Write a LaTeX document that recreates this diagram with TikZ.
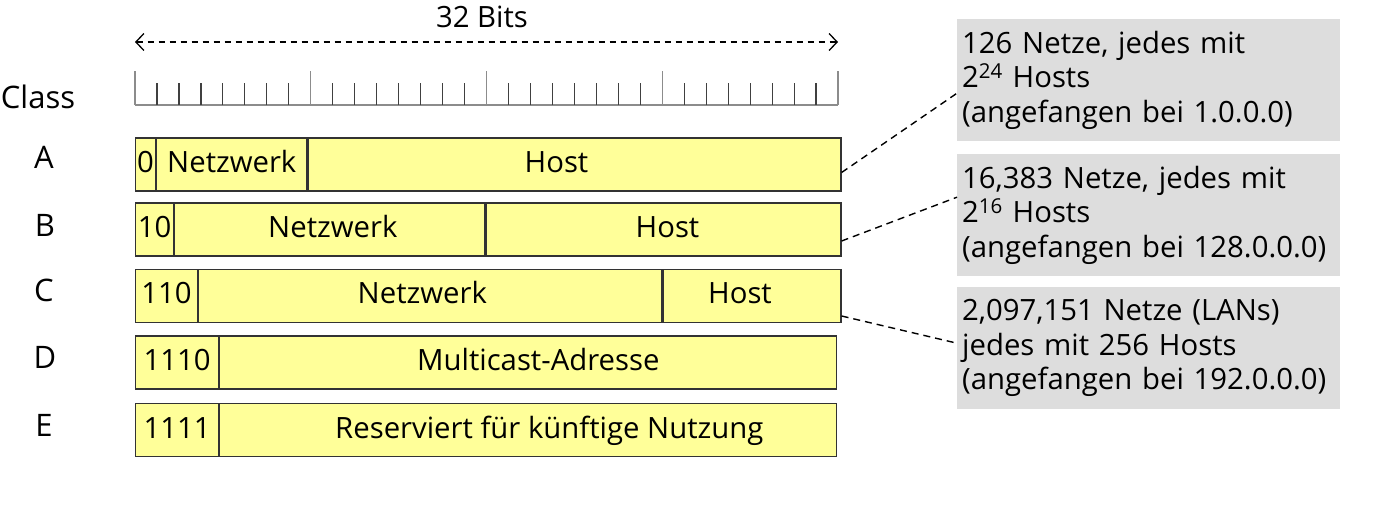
\documentclass[tikz,border=0pt]{standalone}
\usepackage{fontspec}
\setmainfont{Open Sans}
\usetikzlibrary{arrows.meta,positioning,calc}
\definecolor{fieldyellow}{HTML}{FFFF99}
\definecolor{infogray}{HTML}{DDDDDD}
\definecolor{rulergray}{HTML}{8C8C8C}

\begin{document}
\begin{tikzpicture}[x=1pt,y=-1pt,
  every node/.style={font=\fontsize{29.3}{34.5}\selectfont,inner sep=0pt},
  field/.style={draw=black!80,fill=fieldyellow,line width=1.2pt,minimum height=53pt,text height=22pt,text depth=6pt},
  nudge right/.style={execute at begin node={\hspace*{#1}}},
  nudge left/.style={execute at end node={\hspace*{#1}}},
  classlabel/.style={font=\fontsize{31}{36}\selectfont,anchor=base},
  info/.style={fill=infogray,anchor=north west,minimum height=122pt,text width=373pt,inner xsep=5pt,align=left},
  link/.style={dash pattern=on 7pt off 5pt,line width=1.4pt}]
\useasboundingbox (0,0) rectangle (1382,521);

% width of the address
\node[anchor=base] (bitslabel) at (482,28) {32 Bits};
\coordinate (bitsL) at (135,42);
\coordinate (bitsR) at (838,42);
\draw[{Straight Barb[length=8pt,width=17pt]}-{Straight Barb[length=8pt,width=17pt]},dash pattern=on 6pt off 5pt,line width=1.3pt] (bitsL) -- (bitsR);

% bit ruler
\draw[rulergray,line width=1.4pt] (135,105) -- (838,105);
\foreach \i in {0,8,...,32}
  \draw[rulergray,line width=1.4pt] ({135+\i*21.97},105) -- ++(0,-34);
\foreach \i in {1,...,31}{
  \pgfmathtruncatemacro\r{mod(\i,8)}
  \ifnum\r>0 \draw[black!75,line width=1.2pt] ({135+\i*21.97},105) -- ++(0,-22);\fi
}

% class labels
\node[classlabel] (classhead) at (38,109) {Class};
\node[classlabel] (classA) at (44,169) {A};
\node[classlabel] (classB) at (45,237) {B};
\node[classlabel] (classC) at (44,302) {C};
\node[classlabel] (classD) at (45,368) {D};
\node[classlabel] (classE) at (44,436) {E};

% class A
\node[field,minimum width=20pt,anchor=west] (bitsA) at (135,164.5) {0};
\node[field,minimum width=150pt,right=0pt of bitsA] (netA) {Netzwerk};
\node[field,minimum width=533pt,nudge left=36pt,right=0pt of netA] (hostA) {Host};
% class B
\node[field,minimum width=38pt,anchor=west] (bitsB) at (135,229.5) {10};
\node[field,minimum width=310pt,nudge right=6pt,right=0pt of bitsB] (netB) {Netzwerk};
\node[field,minimum width=355pt,nudge right=8pt,right=0pt of netB] (hostB) {Host};
% class C
\node[field,minimum width=62pt,anchor=west] (bitsC) at (135,296) {110};
\node[field,minimum width=463pt,nudge left=16pt,right=0pt of bitsC] (netC) {Netzwerk};
\node[field,minimum width=178pt,nudge left=24pt,right=0pt of netC] (hostC) {Host};
% class D
\node[field,minimum width=83pt,anchor=west] (bitsD) at (135,362.5) {1110};
\node[field,minimum width=617pt,nudge right=20pt,right=0pt of bitsD] (restD) {Multicast-Adresse};
% class E
\node[field,minimum width=83pt,anchor=west] (bitsE) at (135,430) {1111};
\node[field,minimum width=617pt,nudge right=42pt,right=0pt of bitsE] (restE) {Reserviert für künftige Nutzung};

% notes
\node[info] (infoA) at (957,19) {126 Netze, jedes mit\\2\textsuperscript{24} Hosts\\(angefangen bei 1.0.0.0)};
\node[info] (infoB) at (957,154) {16,383 Netze, jedes mit\\2\textsuperscript{16} Hosts\\(angefangen bei 128.0.0.0)};
\node[info] (infoC) at (957,287) {2,097,151 Netze (LANs)\\jedes mit 256 Hosts\\(angefangen bei 192.0.0.0)};

\draw[link] ([yshift=-8pt]hostA.east) -- ([yshift=-13pt]infoA.west);
\draw[link] ([yshift=-11.5pt]hostB.east) -- ([yshift=18pt]infoB.west);
\draw[link] ([yshift=-20pt]hostC.east) -- ([yshift=5pt]infoC.west);
\end{tikzpicture}
\end{document}
